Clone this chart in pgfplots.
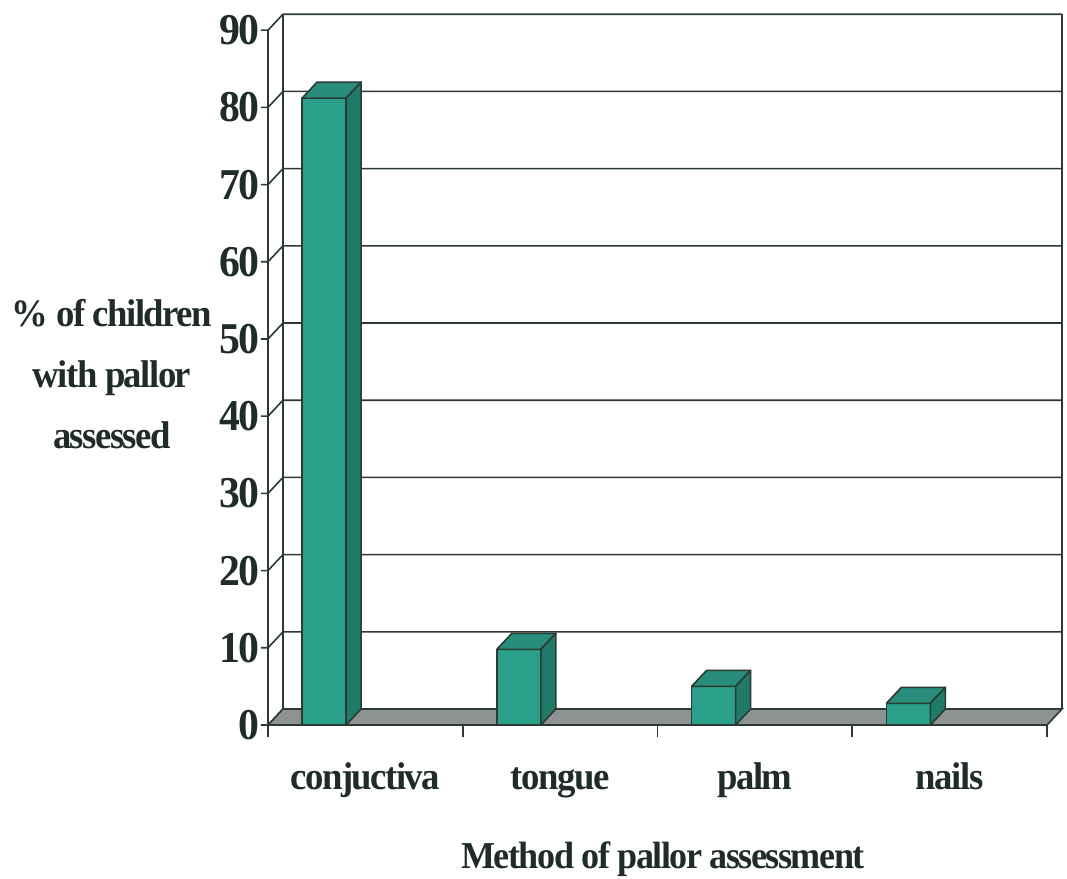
\documentclass[border=0pt]{standalone}
\usepackage{fontspec}
\setmainfont{Liberation Serif}[FakeStretch=0.95, LetterSpace=-4]
\usepackage{pgfplots}
\pgfplotsset{compat=1.18}
\usepackage{pgfplotstable}

\definecolor{frameline}{HTML}{2B3A33}
\definecolor{barfront}{HTML}{2A9F8A}
\definecolor{barside}{HTML}{1F7A68}
\definecolor{bartop}{HTML}{288D7A}
\definecolor{floorgray}{HTML}{8F9292}
\definecolor{textcol}{HTML}{1F2D26}

% percentage of children with pallor assessed, by method
\pgfplotstableread{
idx value
0 81.2
1 9.8
2 5.0
3 2.8
}\pallordata

\begin{document}
\begin{tikzpicture}
\path[use as bounding box] (0,0) rectangle (800.25pt,658.5pt);
\begin{axis}[
  at={(201pt,114.75pt)}, anchor=south west,
  x=146.06pt, y=5.79pt,
  xmin=-0.5, xmax=3.577, ymin=0, ymax=92.07,
  axis line style={draw=none},
  tick style={draw=none},
  clip=false,
  ytick={0,10,...,90},
  xtick={0,1,2,3},
  xticklabels={conjuctiva,tongue,palm,nails},
  /pgf/number format/assume math mode=true,
  yticklabel style={anchor=east, inner sep=0pt, xshift=-6pt,
    font=\bfseries\fontsize{33}{33}\selectfont, text=textcol},
  xticklabel style={anchor=base, inner sep=0pt, yshift=-48.75pt,
    font=\bfseries\fontsize{29}{29}\selectfont, text=textcol},
  xlabel={Method of pallor assessment},
  xlabel style={at={(axis description cs:0.4975,-0.2022)}, anchor=base,
    inner sep=0pt, font=\bfseries\fontsize{28.5}{28.5}\selectfont, text=textcol},
  ylabel={\% of children\\with pallor\\assessed},
  ylabel style={rotate=-90, at={(axis description cs:-0.1965,0.4935)},
    anchor=center, align=center, inner sep=0pt,
    font=\bfseries\fontsize{29}{46}\selectfont, text=textcol},
  frame/.style={draw=frameline, line width=1.2pt, mark=none},
  bar face/.style={draw=frameline, line width=1.2pt, line join=round, mark=none},
]
% back wall gridlines with their side-wall diagonals and tick marks
\pgfplotsinvokeforeach{0,10,...,90}{
  \addplot[frame] table[row sep=\\, y expr=\thisrow{y}+#1]
    {x y\\ -0.536 0\\ -0.5 0\\ -0.423 2.07\\ 3.577 2.07\\};
}
\addplot[frame] coordinates {(-0.423,2.07) (-0.423,92.07)};
\addplot[frame] coordinates {(3.577,2.07) (3.577,92.07)};
% floor
\addplot[frame, fill=floorgray] coordinates
  {(-0.5,0) (3.5,0) (3.577,2.07) (-0.423,2.07) (-0.5,0)};
% front value axis and category tick marks
\addplot[frame] coordinates {(-0.5,-1.55) (-0.5,90)};
\addplot[frame, ycomb] coordinates
  {(-0.5,-1.55) (0.5,-1.55) (1.5,-1.55) (2.5,-1.55) (3.5,-1.55)};
% columns: front, top and side faces
\pgfplotsforeachungrouped \i in {0,...,3}{%
  \pgfplotstablegetelem{\i}{value}\of\pallordata
  \pgfmathsetmacro\v{\pgfplotsretval}%
  \pgfmathsetmacro\vt{\v+2.07}%
  \pgfmathsetmacro\xa{\i-0.325}%
  \pgfmathsetmacro\xb{\i-0.099}%
  \pgfmathsetmacro\xc{\i-0.022}%
  \pgfmathsetmacro\xd{\i-0.248}%
  \edef\barfaces{%
    \noexpand\addplot[bar face, fill=barfront] coordinates
      {(\xa,0) (\xb,0) (\xb,\v) (\xa,\v) (\xa,0)};
    \noexpand\addplot[bar face, fill=bartop] coordinates
      {(\xa,\v) (\xb,\v) (\xc,\vt) (\xd,\vt) (\xa,\v)};
    \noexpand\addplot[bar face, fill=barside] coordinates
      {(\xb,0) (\xc,2.07) (\xc,\vt) (\xb,\v) (\xb,0)};
  }%
  \barfaces
}
\end{axis}
\end{tikzpicture}
\end{document}
